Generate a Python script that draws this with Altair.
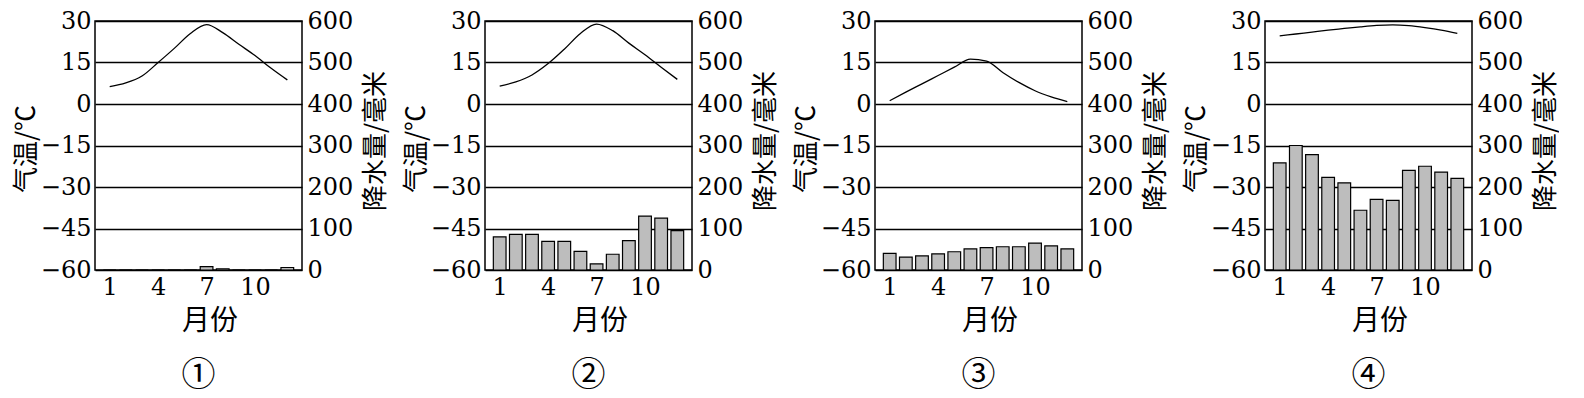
import altair as alt
import pandas as pd

months = list(range(1, 13))

temp1 = [6.3, 7.6, 10.1, 15.0, 20.1, 25.5, 28.7, 25.8, 21.6, 17.5, 12.9, 8.7]
precip1 = [0, 0, 0, 0, 0, 0, 8, 3, 0, 0, 0, 6]

temp2 = [6.5, 8.0, 10.5, 14.6, 19.8, 25.5, 28.9, 26.5, 22.0, 17.8, 13.3, 8.9]
precip2 = [80, 86, 86, 69, 69, 45, 15, 38, 71, 130, 125, 95]

temp3 = [1.2, 4.3, 7.3, 10.3, 13.3, 16.2, 15.5, 11.4, 7.8, 4.8, 2.6, 0.9]
precip3 = [40, 31, 34, 39, 44, 51, 54, 56, 56, 65, 58, 51]

temp4 = [24.6, 25.3, 26.0, 26.7, 27.3, 27.9, 28.4, 28.6, 28.3, 27.6, 26.7, 25.5]
precip4 = [258, 300, 278, 223, 210, 144, 170, 168, 240, 250, 236, 221]

panel_labels = ["①", "②", "③", "④"]
month_ticks = [1, 4, 7, 10]
temp_ticks = [-60, -45, -30, -15, 0, 15, 30]
precip_ticks = [0, 100, 200, 300, 400, 500, 600]

W, H = 207, 249
SERIF = "DejaVu Serif"
CJK = "Noto Sans CJK SC"

AX = dict(
    labelFont=SERIF, labelFontSize=24, labelColor="black",
    titleFont=CJK, titleFontWeight="normal", titleColor="black",
    ticks=False, domain=False,
)


def panel(temp, precip, label):
    df = pd.DataFrame({"month": months, "temp": temp, "precip": precip})
    base = alt.Chart(df)
    x = alt.X(
        "month:Q",
        scale=alt.Scale(domain=[0.4, 12.6], nice=False, zero=False),
        axis=alt.Axis(values=month_ticks, title="月份", labelPadding=5, grid=False,
                      titleFontSize=28, titleX=W / 2 + 11, titleY=51,
                      titleBaseline="middle", titleAlign="center", **AX),
    )
    bars = base.mark_bar(size=12.7, fill="#bdbdbd", stroke="black", strokeWidth=1.2).encode(
        x=x,
        y=alt.Y(
            "precip:Q",
            scale=alt.Scale(domain=[0, 600], nice=False),
            axis=alt.Axis(orient="right", values=precip_ticks, title="降水量/毫米",
                          grid=False, labelPadding=5, titleAngle=270, titleFontSize=26,
                          titleX=73, titleY=H / 2 - 5, titleBaseline="middle",
                          titleAlign="center", **AX),
        ),
    )
    line = base.mark_line(interpolate="monotone", color="black", strokeWidth=1.3).encode(
        x=x,
        y=alt.Y(
            "temp:Q",
            scale=alt.Scale(domain=[-60, 30], nice=False, zero=False),
            axis=alt.Axis(orient="left", values=temp_ticks, title="气温/℃",
                          grid=True, gridColor="black", gridWidth=1.4, gridOpacity=1,
                          labelPadding=4, titleAngle=270, titleFontSize=26,
                          titleX=-69, titleY=H / 2 + 3, titleBaseline="middle",
                          titleAlign="center", **AX),
        ),
    )
    return alt.layer(bars, line).resolve_scale(y="independent").properties(
        width=W, height=H,
        title=alt.TitleParams(label, orient="bottom", fontSize=34, font=CJK,
                              fontWeight="normal", color="black", offset=24, frame="group",
                              anchor="middle"),
    )


chart = alt.hconcat(
    panel(temp1, precip1, panel_labels[0]),
    panel(temp2, precip2, panel_labels[1]),
    panel(temp3, precip3, panel_labels[2]),
    panel(temp4, precip4, panel_labels[3]),
    spacing=13,
).properties(
    padding={"left": 4, "top": 0, "right": 0, "bottom": 3},
    background="white",
).configure_view(
    stroke="black", strokeWidth=1.5
)

chart.save("out.html", embed_options={"renderer": "svg", "actions": False})
